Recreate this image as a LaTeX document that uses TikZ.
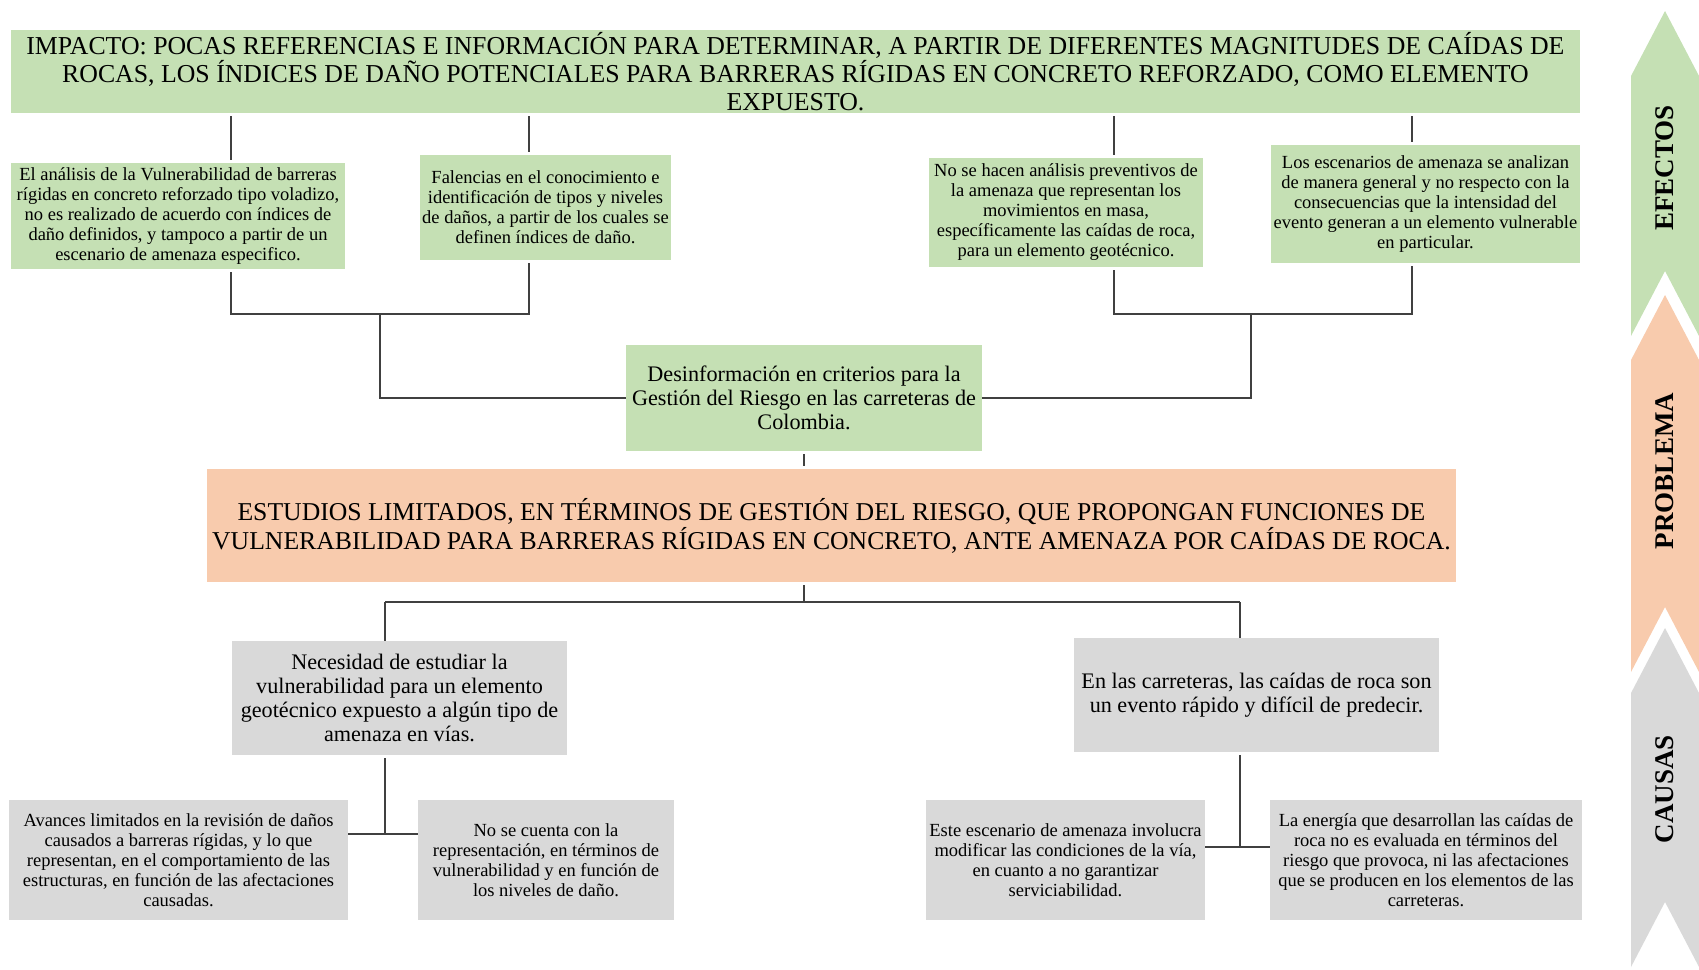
\documentclass[tikz,border=0pt]{standalone}
\usepackage{fontspec}
\setmainfont{Liberation Serif}
\usetikzlibrary{positioning}
\definecolor{verde}{HTML}{C5E0B4}
\definecolor{salmon}{HTML}{F8CBAD}
\definecolor{gris}{HTML}{D9D9D9}
\definecolor{trazo}{HTML}{404040}
\newcommand{\fs}[2]{\fontsize{#1}{#2}\selectfont}

\begin{document}
\begin{tikzpicture}[x=1pt,y=-1pt,
 caja/.style={inner sep=0pt,align=center},
 efecto/.style={caja,fill=verde,font=\fs{18.5}{20}},
 causa/.style={caja,fill=gris,font=\fs{18.5}{20}},
 media/.style={caja,font=\fs{22.2}{24}},
 linea/.style={draw=trazo,line width=1.6pt},
 corto/.style={linea,shorten <=3pt,shorten >=3pt},
 chev/.style={font=\bfseries\fs{27}{27},rotate=90}]
 \useasboundingbox (0,0) rectangle (1699,969);
 % flechas laterales
 \fill[verde] (1631,76) -- (1665,11) -- (1699,76) -- (1699,336) -- (1665,271) -- (1631,336) -- cycle;
 \fill[salmon] (1631,360) -- (1665,295) -- (1699,360) -- (1699,672) -- (1665,607) -- (1631,672) -- cycle;
 \fill[gris] (1631,693) -- (1665,628) -- (1699,693) -- (1699,967) -- (1665,902) -- (1631,967) -- cycle;
 \node[chev] (efectos) at (1665,168) {EFECTOS};
 \node[chev] (problem) at (1665,471) {PROBLEMA};
 \node[chev] (causas) at (1665,789) {CAUSAS};
 % efectos
 \node[caja,fill=verde,font=\fs{25.8}{28},minimum width=1569pt,minimum height=83pt] (impacto) at (795.5,71.5)
  {IMPACTO: POCAS REFERENCIAS E INFORMACIÓN PARA DETERMINAR, A PARTIR DE DIFERENTES MAGNITUDES DE CAÍDAS DE\\
   ROCAS, LOS ÍNDICES DE DAÑO POTENCIALES PARA BARRERAS RÍGIDAS EN CONCRETO REFORZADO, COMO ELEMENTO\\
   EXPUESTO.};
 \node[efecto,minimum width=334pt,minimum height=106pt] (e1) at (178,216)
  {El análisis de la Vulnerabilidad de barreras\\ rígidas en concreto reforzado tipo voladizo,\\
   no es realizado de acuerdo con índices de\\ daño definidos, y tampoco a partir de un\\ escenario de amenaza especifico.};
 \node[efecto,minimum width=251pt,minimum height=105pt] (e2) at (545.5,207.5)
  {Falencias en el conocimiento e\\ identificación de tipos y niveles\\ de daños, a partir de los cuales se\\ definen índices de daño.};
 \node[efecto,minimum width=274pt,minimum height=109pt] (e3) at (1066,212.5)
  {No se hacen análisis preventivos de\\ la amenaza que representan los\\ movimientos en masa,\\
   específicamente las caídas de roca,\\ para un elemento geotécnico.};
 \node[efecto,minimum width=309pt,minimum height=118pt] (e4) at (1425.5,204)
  {Los escenarios de amenaza se analizan\\ de manera general y no respecto con la\\ consecuencias que la intensidad del\\
   evento generan a un elemento vulnerable\\ en particular.};
 \node[media,fill=verde,minimum width=356pt,minimum height=106pt] (desinf) at (804,398)
  {Desinformación en criterios para la\\ Gestión del Riesgo en las carreteras de\\ Colombia.};
 % problema
 \node[caja,fill=salmon,font=\fs{25.7}{29},minimum width=1249pt,minimum height=113pt] (problema) at (831.5,525.5)
  {ESTUDIOS LIMITADOS, EN TÉRMINOS DE GESTIÓN DEL RIESGO, QUE PROPONGAN FUNCIONES DE\\
   VULNERABILIDAD PARA BARRERAS RÍGIDAS EN CONCRETO, ANTE AMENAZA POR CAÍDAS DE ROCA.};
 % causas
 \node[media,fill=gris,minimum width=335pt,minimum height=114pt] (c1) at (399.5,698)
  {Necesidad de estudiar la\\ vulnerabilidad para un elemento\\ geotécnico expuesto a algún tipo de\\ amenaza en vías.};
 \node[media,fill=gris,minimum width=365pt,minimum height=114pt] (c2) at (1256.5,695)
  {En las carreteras, las caídas de roca son\\ un evento rápido y difícil de predecir.};
 \node[causa,minimum width=339pt,minimum height=120pt] (c1a) at (178.5,860)
  {Avances limitados en la revisión de daños\\ causados a barreras rígidas, y lo que\\ representan, en el comportamiento de las\\
   estructuras, en función de las afectaciones\\ causadas.};
 \node[causa,minimum width=256pt,minimum height=120pt] (c1b) at (546,860)
  {No se cuenta con la\\ representación, en términos de\\ vulnerabilidad y en función de\\ los niveles de daño.};
 \node[causa,minimum width=279pt,minimum height=120pt] (c2a) at (1065.5,860)
  {Este escenario de amenaza involucra\\ modificar las condiciones de la vía,\\ en cuanto a no garantizar\\ serviciabilidad.};
 \node[causa,minimum width=312pt,minimum height=120pt] (c2b) at (1426,860)
  {La energía que desarrollan las caídas de\\ roca no es evaluada en términos del\\ riesgo que provoca, ni las afectaciones\\
   que se producen en los elementos de las\\ carreteras.};
 % conectores
 \coordinate (s1) at (231,0);
 \coordinate (s2) at (529,0);
 \coordinate (s3) at (1114,0);
 \coordinate (s4) at (1412,0);
 \coordinate (bi) at (380,314);
 \coordinate (bd) at (1251,314);
 \coordinate (ji) at (385,602);
 \coordinate (jd) at (1240,602);
 \coordinate (ki) at (385,834);
 \coordinate (kd) at (1240,847);
 \foreach \s/\e in {s1/e1,s2/e2,s3/e3,s4/e4}
  \draw[corto] (impacto.south -| \s) -- (\e.north -| \s);
 \draw[corto] (e1.south -| s1) |- (bi) -| (e2.south -| s2);
 \draw[corto] (e3.south -| s3) |- (bd) -| (e4.south -| s4);
 \draw[linea] (bi) |- (desinf.west);
 \draw[linea] (bd) |- (desinf.east);
 \draw[corto] (desinf.south) -- (desinf.south |- problema.north);
 \draw[linea,shorten <=3pt] (problema.south -| desinf) -- (desinf |- ji);
 \draw[linea] (ji) -- (jd);
 \draw[linea] (ji) -- (ji |- c1.north);
 \draw[linea] (jd) -- (jd |- c2.north);
 \draw[linea,shorten <=3pt] (c1.south -| ki) -- (ki);
 \draw[linea] (c1a.east |- ki) -- (c1b.west |- ki);
 \draw[linea,shorten <=3pt] (c2.south -| kd) -- (kd);
 \draw[linea] (c2a.east |- kd) -- (c2b.west |- kd);
\end{tikzpicture}
\end{document}
